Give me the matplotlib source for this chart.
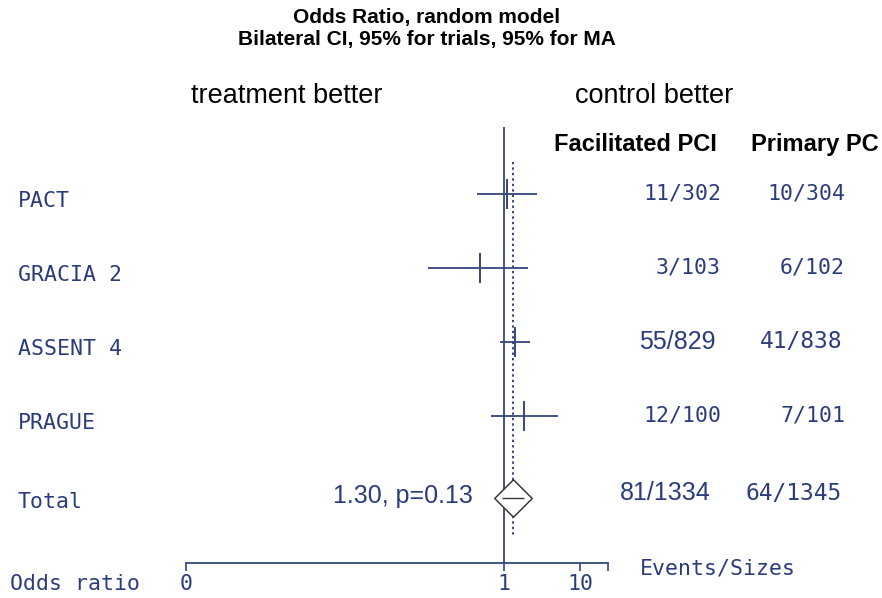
import matplotlib.pyplot as plt
import numpy as np
from matplotlib.transforms import blended_transform_factory

# trial data
trials = ["PACT", "GRACIA 2", "ASSENT 4", "PRAGUE"]
odds_ratio = [1.10, 0.48, 1.38, 1.83]
ci_low = [0.44, 0.10, 0.89, 0.67]
ci_high = [2.72, 2.07, 2.20, 5.10]
events_fac = ["11/302", "3/103", "55/829", "12/100"]
events_pri = ["10/304", "6/102", "41/838", "7/101"]

total_label = "Total"
total_or = 1.30
total_ci = (0.93, 1.82)
total_fac = "81/1334"
total_pri = "64/1345"
total_text = "1.30, p=0.13"

BLUE = "#2a3c7c"
LINE = "#34467c"
MONO = "DejaVu Sans Mono"
SANS = "Liberation Sans"
mono = dict(fontfamily=MONO, color=BLUE)

fig = plt.figure(figsize=(8.82, 5.98), dpi=100)
ax = fig.add_axes([186 / 882, 1 - 563 / 598, (608 - 186) / 882, (563 - 127) / 598])

# odds-ratio axis: log scale, left end labelled "0"
x_lo = 10 ** (-318 / 76)
x_hi = 10 ** (104 / 76)
ax.set_xscale("log")
ax.set_xlim(x_lo, x_hi)
ax.set_ylim(4.99, -0.905)

ys = np.arange(len(trials))
total_y = 4.11

ax.hlines(ys, ci_low, ci_high, color=LINE, lw=1.3)
ax.plot(odds_ratio, ys, ls="none", marker="|", ms=21, mew=1.4, color=LINE)

ax.axvline(1, color=LINE, lw=1.3)
ax.vlines(total_or, -0.43, 4.62, color=LINE, lw=1.4, linestyles=(0, (1.2, 1.6)))

diamond = [(0, 1), (1, 0), (0, -1), (-1, 0), (0, 1)]
ax.plot(total_or, total_y, marker=diamond, ms=27, mfc="white", mec="#3a3a3a", mew=1.1)
ax.hlines(total_y, total_ci[0], total_ci[1], color="#3a3a3a", lw=1.0)

for s in ["top", "left", "right"]:
    ax.spines[s].set_visible(False)
ax.spines["bottom"].set_color(LINE)
ax.spines["bottom"].set_linewidth(1.3)
ax.set_yticks([])
ax.set_xticks([x_lo, 1, 10, x_hi])
ax.set_xticklabels(["0", "1", "10", ""], fontsize=15.5, **mono)
ax.xaxis.set_minor_locator(plt.NullLocator())
ax.tick_params(axis="x", direction="out", length=6, width=1.2, color=LINE, pad=2)
ax.patch.set_visible(False)

trans = blended_transform_factory(fig.transFigure, ax.transData)

for y, name, fac, pri in zip(ys, trials, events_fac, events_pri):
    ax.text(18 / 882, y + 0.1, name, transform=trans, fontsize=15.5, va="center", ha="left", **mono)
    if name == "ASSENT 4":
        ax.text(716 / 882, y, fac, transform=trans, fontfamily=SANS, fontsize=18,
                color=BLUE, va="center", ha="right")
        ax.text(842 / 882, y, pri, transform=trans, fontsize=16.5, va="center", ha="right", **mono)
    else:
        ax.text(721 / 882, y, fac, transform=trans, fontsize=15.5, va="center", ha="right", **mono)
        ax.text(845 / 882, y, pri, transform=trans, fontsize=15.5, va="center", ha="right", **mono)

ax.text(18 / 882, total_y + 0.05, total_label, transform=trans, fontsize=15.5,
        va="center", ha="left", **mono)
ax.text(473 / 882, total_y - 0.02, total_text, transform=trans, fontfamily=SANS, fontsize=18,
        color=BLUE, va="center", ha="right")
ax.text(711 / 882, total_y - 0.06, total_fac, transform=trans, fontfamily=SANS, fontsize=18,
        color=BLUE, va="center", ha="right")
ax.text(842 / 882, total_y - 0.06, total_pri, transform=trans, fontsize=16.5,
        va="center", ha="right", **mono)

# titles and headers
fig.text(427 / 882, 1 - 17 / 598, "Odds Ratio, random model", fontfamily=SANS, fontsize=15,
         fontweight="bold", ha="center", va="center")
fig.text(427 / 882, 1 - 40 / 598, "Bilateral CI, 95% for trials, 95% for MA", fontfamily=SANS,
         fontsize=15, fontweight="bold", ha="center", va="center")
fig.text(287 / 882, 1 - 96 / 598, "treatment better", fontfamily=SANS, fontsize=19.5,
         ha="center", va="center")
fig.text(654 / 882, 1 - 96 / 598, "control better", fontfamily=SANS, fontsize=19.5,
         ha="center", va="center")
fig.text(635 / 882, 1 - 145 / 598, "Facilitated PCI", fontfamily=SANS, fontsize=17,
         fontweight="bold", ha="center", va="center")
fig.text(751 / 882, 1 - 145 / 598, "Primary PC", fontfamily=SANS, fontsize=17,
         fontweight="bold", ha="left", va="center")

fig.text(10 / 882, 1 - 584 / 598, "Odds ratio", fontsize=15.5, ha="left", va="center", **mono)
fig.text(640 / 882, 1 - 568 / 598, "Events/Sizes", fontsize=15.5, ha="left", va="center", **mono)

fig.savefig("out.png", dpi=100)
